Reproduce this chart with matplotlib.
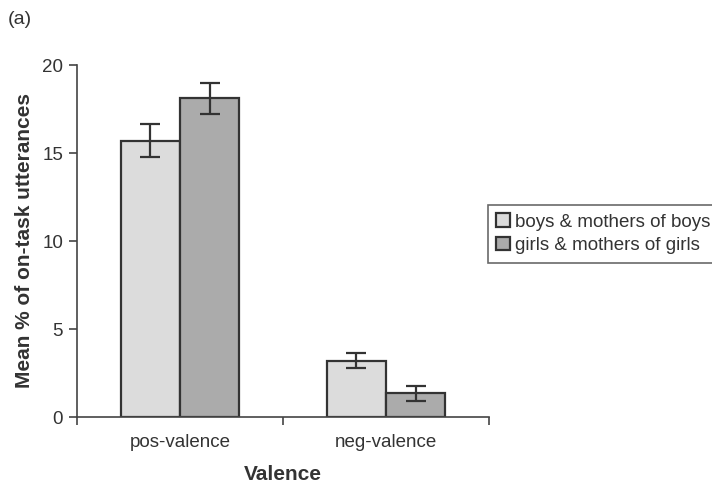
import numpy as np
import matplotlib
matplotlib.use("Agg")
import matplotlib.pyplot as plt

plt.rcParams['font.family'] = ['Liberation Sans', 'DejaVu Sans']

# values
categories = ["pos-valence", "neg-valence"]
series_names = ["boys & mothers of boys", "girls & mothers of girls"]
boys_means = [15.7, 3.2]
boys_err = [0.93, 0.43]
girls_means = [18.1, 1.35]
girls_err = [0.9, 0.43]
y_ticks = [0, 5, 10, 15, 20]

fig = plt.figure(figsize=(7.12, 4.88), dpi=100)
ax = fig.add_axes([77 / 712, 1 - 417 / 488, 412 / 712, 352 / 488])

x = np.arange(len(categories))
w = 0.287
edge = "#333333"
ax.bar(x - w / 2, boys_means, w, color="#dcdcdc", edgecolor=edge, linewidth=1.6,
       label=series_names[0], zorder=2)
ax.bar(x + w / 2, girls_means, w, color="#ababab", edgecolor=edge, linewidth=1.6,
       label=series_names[1], zorder=2)
ax.errorbar(x - w / 2, boys_means, yerr=boys_err, fmt="none", ecolor=edge,
            elinewidth=1.6, capsize=7, capthick=1.6, zorder=3)
ax.errorbar(x + w / 2, girls_means, yerr=girls_err, fmt="none", ecolor=edge,
            elinewidth=1.6, capsize=7, capthick=1.6, zorder=3)

ax.set_xlim(-0.5, len(categories) - 0.5)
ax.set_ylim(0, 20)
ax.set_yticks(y_ticks)
ax.set_yticklabels([str(t) for t in y_ticks], fontsize=13.5, color="#333333")

# category ticks sit between the groups, labels at the centres
ax.set_xticks(np.arange(len(categories) + 1) - 0.5)
ax.set_xticklabels([])
ax.set_xticks(x, minor=True)
ax.set_xticklabels(categories, minor=True, fontsize=13.5, color="#333333")
ax.tick_params(axis="x", which="major", length=6, width=1.2, color="#444444", direction="out")
ax.tick_params(axis="x", which="minor", length=0, pad=12)
ax.tick_params(axis="y", length=6, width=1.2, color="#444444", direction="out", pad=4)

for s in ["top", "right"]:
    ax.spines[s].set_visible(False)
for s in ["left", "bottom"]:
    ax.spines[s].set_linewidth(1.2)
    ax.spines[s].set_color("#444444")

ax.set_ylabel("Mean % of on-task utterances", fontsize=15, fontweight="bold",
              color="#333333", labelpad=6)
ax.set_xlabel("Valence", fontsize=15, fontweight="bold", color="#333333", labelpad=10)

leg = fig.legend(loc="upper left", bbox_to_anchor=(488 / 712, 1 - 205 / 488),
                 fontsize=13.5, frameon=True, fancybox=False, handlelength=0.7,
                 handleheight=0.7, handletextpad=0.3, labelspacing=0.35,
                 borderpad=0.45, borderaxespad=0)
leg.get_frame().set_edgecolor("#444444")
leg.get_frame().set_linewidth(1.2)
for t in leg.get_texts():
    t.set_color("#333333")

fig.text(8 / 712, 1 - 19 / 488, "(a)", fontsize=14, color="#333333", va="center")

fig.savefig("out.png", dpi=100)
